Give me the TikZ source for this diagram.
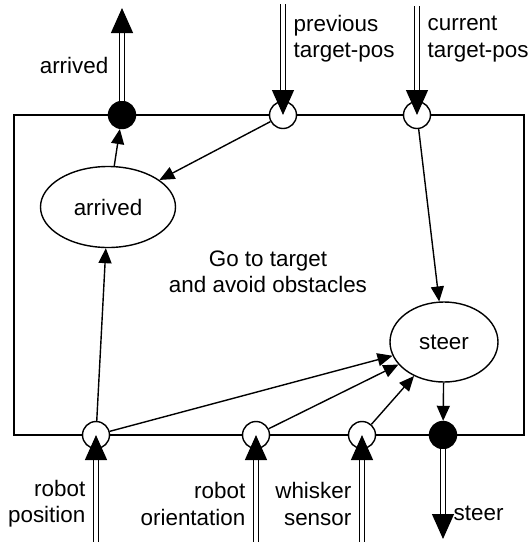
\documentclass[tikz,border=0pt]{standalone}
\usepackage{fontspec}
\setmainfont{Liberation Sans}
\usetikzlibrary{arrows.meta, shapes.geometric}
\tikzset{
    every picture/.style={x=0.5pt, y=-0.5pt, line width=0.7pt, font=\fontsize{11.2}{13.2}\selectfont},
    port/.style={circle, draw, fill=white, minimum size=13.5pt, inner sep=0pt},
    outport/.style={port, fill=black},
    behaviour/.style={ellipse, draw, inner sep=0pt},
    wire/.style={-{Triangle[length=7.5pt, width=6.5pt]}},
    signal/.style={double, double distance=2pt, line width=0.6pt, -{Triangle[length=12.5pt, width=11pt]}},
    tag/.style={inner sep=0pt}
}

\begin{document}
\begin{tikzpicture}
    % Canvas
    \useasboundingbox (0,0) rectangle (530,542);

    % Component frame
    \draw (14,115) rectangle (524,435);

    % Ports on the frame
    \node[outport] (arrivedout) at (122,115) {};
    \node[port] (prevpos) at (283,115) {};
    \node[port] (currpos) at (417,115) {};
    \node[port] (robotpos) at (96,435) {};
    \node[port] (robotdir) at (256,435) {};
    \node[port] (whisker) at (362,435) {};
    \node[outport] (steerout) at (443,435) {};

    % Behaviours inside the component
    \node[behaviour, minimum width=67.5pt, minimum height=40.5pt] (arrived) at (108,207) {arrived};
    \node[behaviour, minimum width=54pt, minimum height=40pt] (steer) at (444,342) {steer};
    \node[align=center] (title) at (268,272) {Go to target\\and avoid obstacles};

    % Internal connections
    \draw[wire] (arrived) -- (arrivedout);
    \draw[wire] (prevpos) -- (arrived);
    \draw[wire] (currpos) -- (steer);
    \draw[wire] (robotpos) -- (arrived);
    \draw[wire] (robotpos) -- (steer);
    \draw[wire] (robotdir) -- (steer);
    \draw[wire] (whisker) -- (steer);
    \draw[wire] (steer) -- (steerout);

    % Outside ends of the signals
    \coordinate (arrivedtip) at (122,8);
    \coordinate (prevsrc) at (283,4);
    \coordinate (currsrc) at (417,6);
    \coordinate (robotpossrc) at (96,542);
    \coordinate (robotdirsrc) at (256,542);
    \coordinate (whiskersrc) at (362,542);
    \coordinate (steertip) at (443,539);

    % Signals in and out
    \draw[signal] (arrivedout.north) -- (arrivedtip);
    \draw[signal] (prevsrc) -- (prevpos.center);
    \draw[signal] (currsrc) -- (currpos.center);
    \draw[signal] (robotpossrc) -- (robotpos.center);
    \draw[signal] (robotdirsrc) -- (robotdir.center);
    \draw[signal] (whiskersrc) -- (whisker.center);
    \draw[signal] (steerout.south) -- (steertip);

    % Signal names
    \node[tag, anchor=base east] (arrivedname) at (109,73) {arrived};
    \node[tag, anchor=west, align=left] (prevname) at (293,39) {previous\\target-pos};
    \node[tag, anchor=west, align=left] (currname) at (427,39) {current\\target-pos};
    \node[tag, anchor=east, align=right] (robotposname) at (86,504) {robot\\position};
    \node[tag, anchor=east, align=right] (robotdirname) at (246,504) {robot\\orientation};
    \node[tag, anchor=east, align=right] (whiskername) at (352,504) {whisker\\sensor};
    \node[tag, anchor=base west] (steername) at (453,520) {steer};
\end{tikzpicture}
\end{document}
